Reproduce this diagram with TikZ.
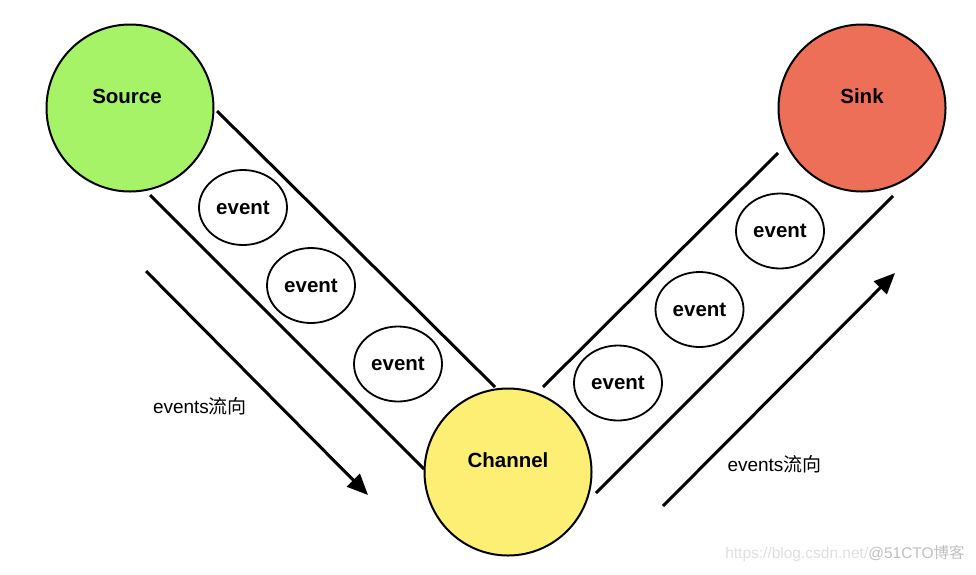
\documentclass[tikz,border=0pt]{standalone}
\usepackage{fontspec}
\setmainfont{Liberation Sans}
\newfontfamily\cjkfont{Noto Sans CJK SC}
\usetikzlibrary{positioning, arrows.meta, shapes.geometric}
\definecolor{srcgreen}{RGB}{166,243,104}
\definecolor{sinkred}{RGB}{238,111,87}
\definecolor{chanyellow}{RGB}{253,238,116}

\begin{document}
\begin{tikzpicture}[x=1pt, y=-1pt,
    main/.style = {draw, circle, line width=2pt, minimum size=167pt, inner sep=0pt},
    ev/.style = {draw, ellipse, line width=1.8pt, minimum width=88pt, minimum height=75pt, inner sep=0pt, font=\bfseries\fontsize{20.5}{24}\selectfont},
    stagelbl/.style = {font=\bfseries\fontsize{20.5}{24}\selectfont},
    pipe/.style = {line width=3pt},
    flow/.style = {line width=3pt, -{Triangle[length=21pt,width=18pt]}},
    flowlbl/.style = {font=\fontsize{19}{22}\selectfont}]
    \useasboundingbox (0,0) rectangle (976,574);
    % stages
    \node[main, fill=srcgreen] (source) at (130,108) {};
    \node[main, fill=sinkred] (sink) at (862,108) {};
    \node[main, fill=chanyellow] (channel) at (508,472) {};
    \node[stagelbl] (sourcelbl) at ([xshift=-3pt, yshift=12pt]source.center) {Source};
    \node[stagelbl] (sinklbl) at ([yshift=12pt]sink.center) {Sink};
    \node[stagelbl] (channellbl) at ([yshift=12pt]channel.center) {Channel};
    % pipe walls
    \coordinate (la1) at (217,111);
    \coordinate (la2) at (495,387);
    \coordinate (lb1) at (150,195);
    \coordinate (lb2) at (424,469);
    \coordinate (ra1) at (543,387);
    \coordinate (ra2) at (778,153);
    \coordinate (rb1) at (596,493);
    \coordinate (rb2) at (893,196);
    \draw[pipe] (la1) -- (la2);
    \draw[pipe] (lb1) -- (lb2);
    \draw[pipe] (ra1) -- (ra2);
    \draw[pipe] (rb1) -- (rb2);
    % events
    \node[ev] (e1) at (243,207.5) {event};
    \node[ev] (e2) at (311,285.5) {event};
    \node[ev] (e3) at (398,364) {event};
    \node[ev] (e4) at (618,383) {event};
    \node[ev] (e5) at (699.5,309.5) {event};
    \node[ev] (e6) at (780,231) {event};
    % flow direction
    \coordinate (fl1) at (146,271);
    \coordinate (fl2) at (368,495);
    \coordinate (fr1) at (663,506);
    \coordinate (fr2) at (895,273);
    \draw[flow] (fl1) -- (fl2);
    \draw[flow] (fr1) -- (fr2);
    \node[flowlbl] (leftnote) at (200,406) {events{\cjkfont 流向}};
    \node[flowlbl] (rightnote) at (774.5,464) {events{\cjkfont 流向}};
    \node[font=\fontsize{15.5}{18}\selectfont, text=gray!25] (mark) at (845,554) {https://blog.csdn.net/\textcolor{gray!50}{@51CTO{\cjkfont 博客}}};
\end{tikzpicture}
\end{document}
